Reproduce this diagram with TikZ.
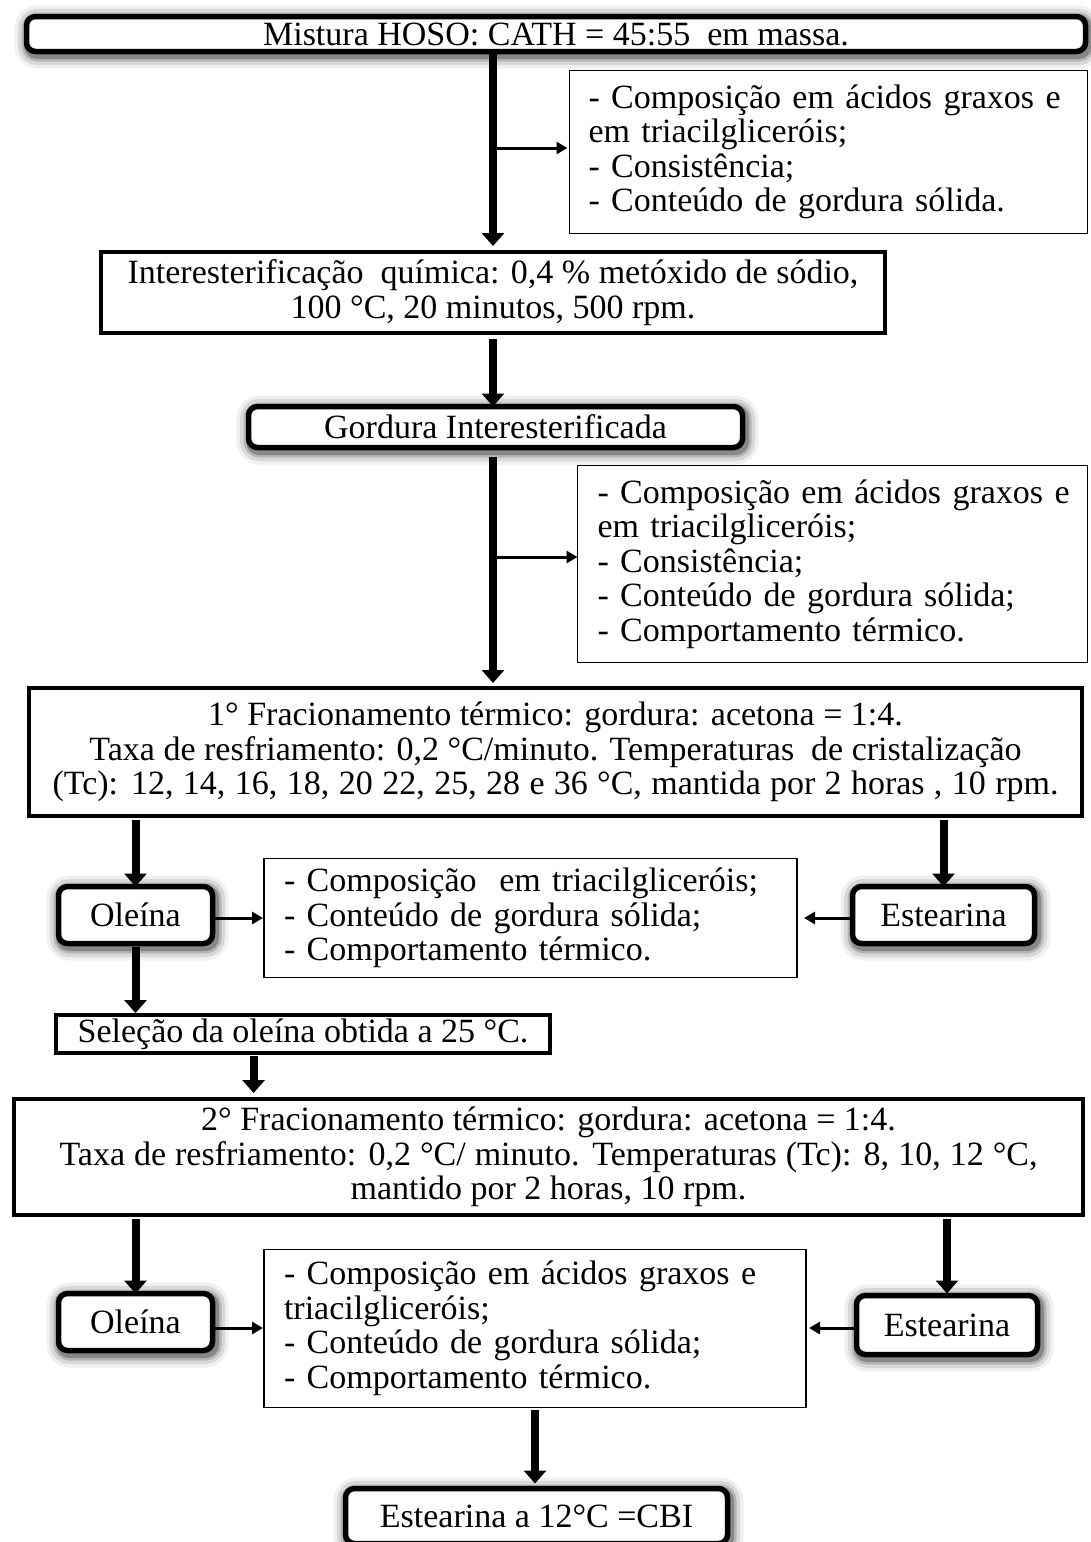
\documentclass[tikz,border=0pt]{standalone}
\usepackage{fontspec}
\setmainfont{Liberation Serif}
\usetikzlibrary{arrows.meta,calc}
\begin{document}
\begin{tikzpicture}[x=1pt,y=-1pt,
  every node/.style={font=\fontsize{34}{34.5}\selectfont, inner sep=0pt, outer sep=0pt},
  glow/.style={
    preaction={draw=black,line width=28pt,opacity=0.06,transform canvas={shift={(2pt,-3pt)}}},
    preaction={draw=black,line width=21pt,opacity=0.1,transform canvas={shift={(2pt,-3pt)}}},
    preaction={draw=black,line width=14pt,opacity=0.16,transform canvas={shift={(2pt,-3pt)}}},
    preaction={draw=black,line width=9pt,opacity=0.25,transform canvas={shift={(2pt,-3pt)}}}},
  rbox/.style={glow, draw, fill=white, line width=5.5pt, rounded corners=9pt, align=center},
  sbox/.style={draw, fill=white, line width=4pt, align=center},
  ibox/.style={draw, line width=1.3pt, align=left},
  bigarrow/.style={line width=8pt, -{Triangle[width=22pt,length=13pt]}},
  smallarrow/.style={line width=3pt, -{Triangle[width=12pt,length=11pt]}}
]
\useasboundingbox (0,0) rectangle (1090,1542);

% main nodes
\node[rbox, minimum width=1059, minimum height=35] (top) at (556,34) {Mistura HOSO: CATH = 45:55\ \ em massa.};
\node[ibox, minimum height=163, text width=480, inner xsep=19] (info1) at (828.5,152)
  {\mbox{- Composição em ácidos graxos e}\\ em triacilgliceróis;\\ - Consistência;\\ - Conteúdo de gordura sólida.};
\node[sbox, minimum width=784, minimum height=81] (inter) at (493,292.5)
  {Interesterificação\ \ química: 0,4 \% metóxido de sódio,\\ 100 °C, 20 minutos, 500 rpm.};
\node[rbox, minimum width=494, minimum height=41] (gord) at (495.5,427) {Gordura Interesterificada};
\node[ibox, minimum height=197, text width=470, inner xsep=20] (info2) at (832.5,564)
  {\mbox{- Composição em ácidos graxos e}\\ em triacilgliceróis;\\ - Consistência;\\ - Conteúdo de gordura sólida;\\ - Comportamento térmico.};
\node[sbox, minimum width=1053, minimum height=128] (frac1) at (555.5,752)
  {1° Fracionamento térmico: gordura: acetona = 1:4.\\
   Taxa de resfriamento: 0,2 °C/minuto. Temperaturas\ \ de cristalização\\
   \makebox[1006pt][s]{(Tc): 12, 14, 16, 18, 20 22, 25, 28 e 36 °C, mantida por 2 horas , 10 rpm.}};
\node[rbox, minimum width=154, minimum height=57] (ole1) at (135.5,915) {Oleína};
\node[rbox, minimum width=182, minimum height=57] (est1) at (943.5,915) {Estearina};
\node[ibox, minimum height=119, text width=493, inner xsep=20] (info3) at (530.5,918)
  {- Composição\ \ em triacilgliceróis;\\ - Conteúdo de gordura sólida;\\ - Comportamento térmico.};
\node[sbox, minimum width=494, minimum height=38] (sel) at (303,1034) {Seleção da oleína obtida a 25 °C.};
\node[sbox, minimum width=1069, minimum height=116] (frac2) at (548.5,1157)
  {2° Fracionamento térmico: gordura: acetona = 1:4.\\
   \makebox[978pt][s]{Taxa de resfriamento: 0,2 °C/ minuto. Temperaturas (Tc): 8, 10, 12 °C,}\\
   mantido por 2 horas, 10 rpm.};
\node[rbox, minimum width=154, minimum height=57] (ole2) at (135.5,1322) {Oleína};
\node[rbox, minimum width=181, minimum height=59] (est2) at (947,1325) {Estearina};
\node[ibox, minimum height=158, text width=502, inner xsep=20] (info4) at (535,1328.5)
  {\mbox{- Composição em ácidos graxos e}\\ triacilgliceróis;\\ - Conteúdo de gordura sólida;\\ - Comportamento térmico.};
\node[rbox, minimum width=382, minimum height=55] (final) at (536.5,1516) {Estearina a 12°C =CBI};

% connectors
\draw[bigarrow, shorten <=2pt, shorten >=6pt] (top.south -| inter.north) -- (inter.north);
\draw[smallarrow, shorten >=2pt] (info1.west -| inter.north) ++(0,-4) coordinate (b1) -- (b1 -| info1.west);
\draw[bigarrow, shorten <=6pt] (inter.south) -- (inter.south |- gord.north);
\draw[bigarrow, shorten <=9pt, shorten >=5pt] (inter.south |- gord.south) -- (inter.south |- frac1.north);
\draw[smallarrow] (info2.west -| inter.south) ++(0,-7) coordinate (b2) -- (b2 -| info2.west);
\draw[bigarrow, shorten <=4pt] (ole1.north |- frac1.south) -- (ole1.north);
\draw[bigarrow, shorten <=4pt] (est1.north |- frac1.south) -- (est1.north);
\draw[smallarrow, shorten <=1pt, shorten >=1pt] ($(ole1.east)+(0,3)$) -- ($(ole1.east -| info3.west)+(0,3)$);
\draw[smallarrow, shorten <=1pt, shorten >=7pt] ($(est1.west)+(0,3)$) -- ($(est1.west -| info3.east)+(0,3)$);
\draw[bigarrow, shorten <=3pt, shorten >=2pt] (ole1.south) -- (ole1.south |- sel.north);
\coordinate (s1) at ($(sel.south west)!0.4!(sel.south east)$);
\draw[bigarrow, shorten <=3pt, shorten >=6pt] (s1) -- (s1 |- frac2.north);
\draw[bigarrow, shorten <=4pt] (ole2.north |- frac2.south) -- (ole2.north);
\draw[bigarrow, shorten <=4pt, shorten >=2pt] (est2.north |- frac2.south) -- (est2.north);
\draw[smallarrow, shorten <=1pt, shorten >=1pt] ($(ole2.east)+(0,6)$) -- ($(ole2.east -| info4.west)+(0,6)$);
\draw[smallarrow, shorten <=1pt, shorten >=3pt] ($(est2.west)+(0,3)$) -- ($(est2.west -| info4.east)+(0,3)$);
\draw[bigarrow, shorten <=2pt, shorten >=5pt] (info4.south) -- (info4.south |- final.north);
\end{tikzpicture}
\end{document}
